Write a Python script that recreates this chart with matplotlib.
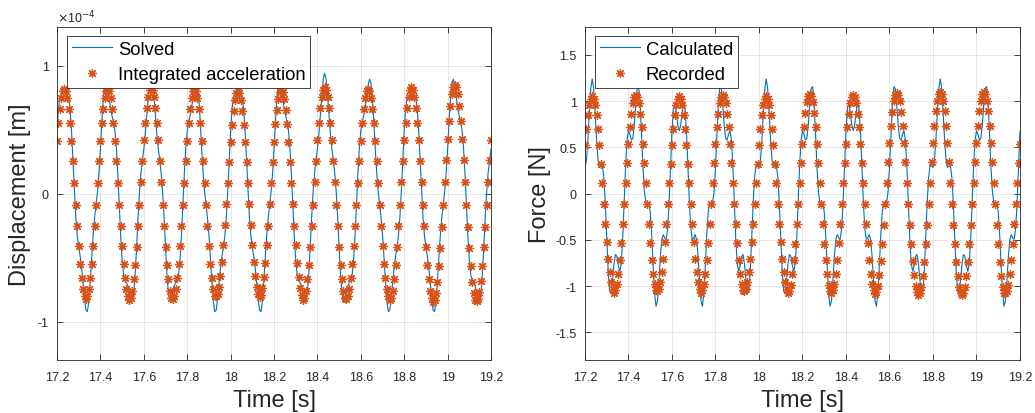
import numpy as np
import matplotlib
matplotlib.use("Agg")
import matplotlib.pyplot as plt
from matplotlib.ticker import FormatStrFormatter

plt.rcParams["font.family"] = ["Liberation Sans", "DejaVu Sans"]
plt.rcParams["axes.unicode_minus"] = False

# ── sampling (both records share the same clock) ─────────────────────────────
T_START = 17.2      # s
FS      = 150       # samples per second

# ── displacement (units of 1e-4 m) ───────────────────────────────────────────
disp_solved = [
     0.491,  0.662,  0.751,  0.767,  0.751,
     0.740,  0.751,  0.767,  0.751,  0.662,  0.491,  0.260,  0.017, -0.188, -0.331,
    -0.420, -0.491, -0.580, -0.696, -0.822, -0.911, -0.922, -0.838, -0.680, -0.491,
    -0.320, -0.189, -0.088,  0.017,  0.160,  0.349,  0.562,  0.751,  0.867,  0.893,
     0.840,  0.751,  0.667,  0.609,  0.562,  0.491,  0.360,  0.159, -0.088, -0.331,
    -0.520, -0.633, -0.680, -0.696, -0.722, -0.769, -0.822, -0.838, -0.780, -0.633,
    -0.420, -0.189,  0.012,  0.159,  0.260,  0.349,  0.462,  0.609,  0.767,  0.893,
     0.940,  0.893,  0.767,  0.609,  0.462,  0.349,  0.260,  0.159,  0.012, -0.189,
    -0.420, -0.633, -0.780, -0.838, -0.822, -0.769, -0.722, -0.696, -0.680, -0.633,
    -0.520, -0.331, -0.088,  0.159,  0.360,  0.491,  0.562,  0.609,  0.667,  0.751,
     0.840,  0.893,  0.867,  0.751,  0.562,  0.349,  0.160,  0.017, -0.088, -0.189,
    -0.320, -0.491, -0.680, -0.838, -0.922, -0.911, -0.822, -0.696, -0.580, -0.491,
    -0.420, -0.331, -0.188,  0.017,  0.260,  0.491,  0.662,  0.751,  0.767,  0.751,
     0.740,  0.751,  0.767,  0.751,  0.662,  0.491,  0.260,  0.017, -0.188, -0.331,
    -0.420, -0.491, -0.580, -0.696, -0.822, -0.911, -0.922, -0.838, -0.680, -0.491,
    -0.320, -0.189, -0.088,  0.017,  0.160,  0.349,  0.562,  0.751,  0.867,  0.893,
     0.840,  0.751,  0.667,  0.609,  0.562,  0.491,  0.360,  0.159, -0.088, -0.331,
    -0.520, -0.633, -0.680, -0.696, -0.722, -0.769, -0.822, -0.838, -0.780, -0.633,
    -0.420, -0.189,  0.012,  0.159,  0.260,  0.349,  0.462,  0.609,  0.767,  0.893,
     0.940,  0.893,  0.767,  0.609,  0.462,  0.349,  0.260,  0.159,  0.012, -0.189,
    -0.420, -0.633, -0.780, -0.838, -0.822, -0.769, -0.722, -0.696, -0.680, -0.633,
    -0.520, -0.331, -0.088,  0.159,  0.360,  0.491,  0.562,  0.609,  0.667,  0.751,
     0.840,  0.893,  0.867,  0.751,  0.562,  0.349,  0.160,  0.017, -0.088, -0.189,
    -0.320, -0.491, -0.680, -0.838, -0.922, -0.911, -0.822, -0.696, -0.580, -0.491,
    -0.420, -0.331, -0.188,  0.017,  0.260,  0.491,  0.662,  0.751,  0.767,  0.751,
     0.740,  0.751,  0.767,  0.751,  0.662,  0.491,  0.260,  0.017, -0.188, -0.331,
    -0.420, -0.491, -0.580, -0.696, -0.822, -0.911, -0.922, -0.838, -0.680, -0.491,
    -0.320, -0.189, -0.088,  0.017,  0.160,  0.349,  0.562,  0.751,  0.867,  0.893,
     0.840,  0.751,  0.667,  0.609,  0.562,  0.491,  0.360,  0.159, -0.088, -0.331,
    -0.520, -0.633, -0.680, -0.696, -0.722, -0.769, -0.822, -0.838, -0.780, -0.633,
    -0.420, -0.189,  0.012,  0.159,  0.260,  0.349,
]

disp_integrated = [
     0.410,  0.549,  0.663,  0.749,  0.802,  0.820,  0.802,  0.749,  0.663,  0.549,
     0.410,  0.253,  0.086, -0.086, -0.253, -0.410, -0.549, -0.663, -0.749, -0.802,
    # cycle 2
    -0.820, -0.802, -0.749, -0.663, -0.549, -0.410, -0.253, -0.086,  0.086,  0.253,
     0.410,  0.549,  0.663,  0.749,  0.802,  0.820,  0.802,  0.749,  0.663,  0.549,
     0.410,  0.253,  0.086, -0.086, -0.253, -0.410, -0.549, -0.663, -0.749, -0.802,
    # cycle 3
    -0.830, -0.812, -0.758, -0.671, -0.555, -0.415, -0.256, -0.087,  0.087,  0.256,
     0.415,  0.555,  0.671,  0.758,  0.812,  0.830,  0.812,  0.758,  0.671,  0.555,
     0.415,  0.256,  0.087, -0.087, -0.256, -0.415, -0.555, -0.671, -0.758, -0.812,
    # cycle 4
    -0.820, -0.802, -0.749, -0.663, -0.549, -0.410, -0.253, -0.086,  0.086,  0.253,
     0.410,  0.549,  0.663,  0.749,  0.802,  0.820,  0.802,  0.749,  0.663,  0.549,
     0.410,  0.253,  0.086, -0.086, -0.253, -0.410, -0.549, -0.663, -0.749, -0.802,
    # cycle 5
    -0.800, -0.782, -0.731, -0.647, -0.535, -0.400, -0.247, -0.084,  0.084,  0.247,
     0.400,  0.535,  0.647,  0.731,  0.782,  0.800,  0.782,  0.731,  0.647,  0.535,
     0.400,  0.247,  0.084, -0.084, -0.247, -0.400, -0.535, -0.647, -0.731, -0.782,
    # cycle 6
    -0.810, -0.792, -0.740, -0.655, -0.542, -0.405, -0.250, -0.085,  0.085,  0.250,
     0.405,  0.542,  0.655,  0.740,  0.792,  0.810,  0.792,  0.740,  0.655,  0.542,
     0.405,  0.250,  0.085, -0.085, -0.250, -0.405, -0.542, -0.655, -0.740, -0.792,
    # cycle 7
    -0.830, -0.812, -0.758, -0.671, -0.555, -0.415, -0.256, -0.087,  0.087,  0.256,
     0.415,  0.555,  0.671,  0.758,  0.812,  0.830,  0.812,  0.758,  0.671,  0.555,
     0.415,  0.256,  0.087, -0.087, -0.256, -0.415, -0.555, -0.671, -0.758, -0.812,
    # cycle 8
    -0.820, -0.802, -0.749, -0.663, -0.549, -0.410, -0.253, -0.086,  0.086,  0.253,
     0.410,  0.549,  0.663,  0.749,  0.802,  0.820,  0.802,  0.749,  0.663,  0.549,
     0.410,  0.253,  0.086, -0.086, -0.253, -0.410, -0.549, -0.663, -0.749, -0.802,
    # cycle 9
    -0.830, -0.812, -0.758, -0.671, -0.555, -0.415, -0.256, -0.087,  0.087,  0.256,
     0.415,  0.555,  0.671,  0.758,  0.812,  0.830,  0.812,  0.758,  0.671,  0.555,
     0.415,  0.256,  0.087, -0.087, -0.256, -0.415, -0.555, -0.671, -0.758, -0.812,
    # cycle 10
    -0.850, -0.831, -0.776, -0.688, -0.569, -0.425, -0.263, -0.089,  0.089,  0.263,
     0.425,  0.569,  0.688,  0.776,  0.831,  0.850,  0.831,  0.776,  0.688,  0.569,
     0.425,  0.263,  0.089, -0.089, -0.263, -0.425, -0.569, -0.688, -0.776, -0.831,
    # tail
    -0.840, -0.822, -0.767, -0.680, -0.562, -0.420, -0.260, -0.088,  0.088,  0.260,
     0.420,
]

# ── force ────────────────────────────────────────────────────────────────────
force_calc = [
     0.282,  0.362,  0.579,  0.877,  1.137,
     1.240,  1.137,  0.877,  0.579,  0.362,  0.282,  0.297,  0.298,  0.180, -0.099,
    -0.480, -0.840, -1.057, -1.075, -0.939, -0.762, -0.659, -0.679, -0.777, -0.840,
    -0.760, -0.495, -0.100,  0.298,  0.577,  0.678,  0.642,  0.579,  0.597,  0.741,
     0.960,  1.137,  1.157,  0.975,  0.642,  0.282,  0.017, -0.098, -0.100, -0.099,
    -0.200, -0.444, -0.777, -1.075, -1.219, -1.158, -0.939, -0.679, -0.497, -0.444,
    -0.480, -0.495, -0.380, -0.098,  0.297,  0.678,  0.922,  0.975,  0.877,  0.741,
     0.680,  0.741,  0.877,  0.975,  0.922,  0.678,  0.297, -0.098, -0.380, -0.495,
    -0.480, -0.444, -0.497, -0.679, -0.939, -1.158, -1.219, -1.075, -0.777, -0.444,
    -0.200, -0.099, -0.100, -0.098,  0.017,  0.282,  0.642,  0.975,  1.157,  1.137,
     0.960,  0.741,  0.597,  0.579,  0.642,  0.678,  0.577,  0.298, -0.100, -0.495,
    -0.760, -0.840, -0.777, -0.679, -0.659, -0.762, -0.939, -1.075, -1.057, -0.840,
    -0.480, -0.099,  0.180,  0.298,  0.297,  0.282,  0.362,  0.579,  0.877,  1.137,
     1.240,  1.137,  0.877,  0.579,  0.362,  0.282,  0.297,  0.298,  0.180, -0.099,
    -0.480, -0.840, -1.057, -1.075, -0.939, -0.762, -0.659, -0.679, -0.777, -0.840,
    -0.760, -0.495, -0.100,  0.298,  0.577,  0.678,  0.642,  0.579,  0.597,  0.741,
     0.960,  1.137,  1.157,  0.975,  0.642,  0.282,  0.017, -0.098, -0.100, -0.099,
    -0.200, -0.444, -0.777, -1.075, -1.219, -1.158, -0.939, -0.679, -0.497, -0.444,
    -0.480, -0.495, -0.380, -0.098,  0.297,  0.678,  0.922,  0.975,  0.877,  0.741,
     0.680,  0.741,  0.877,  0.975,  0.922,  0.678,  0.297, -0.098, -0.380, -0.495,
    -0.480, -0.444, -0.497, -0.679, -0.939, -1.158, -1.219, -1.075, -0.777, -0.444,
    -0.200, -0.099, -0.100, -0.098,  0.017,  0.282,  0.642,  0.975,  1.157,  1.137,
     0.960,  0.741,  0.597,  0.579,  0.642,  0.678,  0.577,  0.298, -0.100, -0.495,
    -0.760, -0.840, -0.777, -0.679, -0.659, -0.762, -0.939, -1.075, -1.057, -0.840,
    -0.480, -0.099,  0.180,  0.298,  0.297,  0.282,  0.362,  0.579,  0.877,  1.137,
     1.240,  1.137,  0.877,  0.579,  0.362,  0.282,  0.297,  0.298,  0.180, -0.099,
    -0.480, -0.840, -1.057, -1.075, -0.939, -0.762, -0.659, -0.679, -0.777, -0.840,
    -0.760, -0.495, -0.100,  0.298,  0.577,  0.678,  0.642,  0.579,  0.597,  0.741,
     0.960,  1.137,  1.157,  0.975,  0.642,  0.282,  0.017, -0.098, -0.100, -0.099,
    -0.200, -0.444, -0.777, -1.075, -1.219, -1.158, -0.939, -0.679, -0.497, -0.444,
    -0.480, -0.495, -0.380, -0.098,  0.297,  0.678,
]

force_rec = [
     0.525,  0.703,  0.849,  0.959,  1.027,  1.050,  1.027,  0.959,  0.849,  0.703,
     0.525,  0.324,  0.110, -0.110, -0.324, -0.525, -0.703, -0.849, -0.959, -1.027,
    # cycle 2
    -1.070, -1.047, -0.977, -0.866, -0.716, -0.535, -0.331, -0.112,  0.112,  0.331,
     0.535,  0.716,  0.866,  0.977,  1.047,  1.070,  1.047,  0.977,  0.866,  0.716,
     0.535,  0.331,  0.112, -0.112, -0.331, -0.535, -0.716, -0.866, -0.977, -1.047,
    # cycle 3
    -1.050, -1.027, -0.959, -0.849, -0.703, -0.525, -0.324, -0.110,  0.110,  0.324,
     0.525,  0.703,  0.849,  0.959,  1.027,  1.050,  1.027,  0.959,  0.849,  0.703,
     0.525,  0.324,  0.110, -0.110, -0.324, -0.525, -0.703, -0.849, -0.959, -1.027,
    # cycle 4
    -1.070, -1.047, -0.977, -0.866, -0.716, -0.535, -0.331, -0.112,  0.112,  0.331,
     0.535,  0.716,  0.866,  0.977,  1.047,  1.070,  1.047,  0.977,  0.866,  0.716,
     0.535,  0.331,  0.112, -0.112, -0.331, -0.535, -0.716, -0.866, -0.977, -1.047,
    # cycle 5
    -1.050, -1.027, -0.959, -0.849, -0.703, -0.525, -0.324, -0.110,  0.110,  0.324,
     0.525,  0.703,  0.849,  0.959,  1.027,  1.050,  1.027,  0.959,  0.849,  0.703,
     0.525,  0.324,  0.110, -0.110, -0.324, -0.525, -0.703, -0.849, -0.959, -1.027,
    # cycle 6
    -1.080, -1.056, -0.987, -0.874, -0.723, -0.540, -0.334, -0.113,  0.113,  0.334,
     0.540,  0.723,  0.874,  0.987,  1.056,  1.080,  1.056,  0.987,  0.874,  0.723,
     0.540,  0.334,  0.113, -0.113, -0.334, -0.540, -0.723, -0.874, -0.987, -1.056,
    # cycle 7
    -1.070, -1.047, -0.977, -0.866, -0.716, -0.535, -0.331, -0.112,  0.112,  0.331,
     0.535,  0.716,  0.866,  0.977,  1.047,  1.070,  1.047,  0.977,  0.866,  0.716,
     0.535,  0.331,  0.112, -0.112, -0.331, -0.535, -0.716, -0.866, -0.977, -1.047,
    # cycle 8
    -1.090, -1.066, -0.996, -0.882, -0.729, -0.545, -0.337, -0.114,  0.114,  0.337,
     0.545,  0.729,  0.882,  0.996,  1.066,  1.090,  1.066,  0.996,  0.882,  0.729,
     0.545,  0.337,  0.114, -0.114, -0.337, -0.545, -0.729, -0.882, -0.996, -1.066,
    # cycle 9
    -1.100, -1.076, -1.005, -0.890, -0.736, -0.550, -0.340, -0.115,  0.115,  0.340,
     0.550,  0.736,  0.890,  1.005,  1.076,  1.100,  1.076,  1.005,  0.890,  0.736,
     0.550,  0.340,  0.115, -0.115, -0.340, -0.550, -0.736, -0.890, -1.005, -1.076,
    # cycle 10
    -1.100, -1.076, -1.005, -0.890, -0.736, -0.550, -0.340, -0.115,  0.115,  0.340,
     0.550,  0.736,  0.890,  1.005,  1.076,  1.100,  1.076,  1.005,  0.890,  0.736,
     0.550,  0.340,  0.115, -0.115, -0.340, -0.550, -0.736, -0.890, -1.005, -1.076,
    # tail
    -1.080, -1.056, -0.987, -0.874, -0.723, -0.540, -0.334, -0.113,  0.113,  0.334,
     0.540,
]

for arr in (disp_integrated, force_calc, force_rec):
    assert len(arr) == len(disp_solved), len(arr)

t = T_START + np.arange(len(disp_solved)) / FS

X_TICKS      = [17.2, 17.4, 17.6, 17.8, 18.0, 18.2, 18.4, 18.6, 18.8, 19.0, 19.2]
DISP_TICKS   = [-1, 0, 1]          # x 1e-4 m
FORCE_TICKS  = [-1.5, -1, -0.5, 0, 0.5, 1, 1.5]

# ── MATLAB-like look ──────────────────────────────────────────────────────────
BLUE   = "#0072BD"
ORANGE = "#D95319"
INK    = "#262626"
STAR   = (8, 2, 0)
LABEL_FS = 17


def style_axis(ax):
    ax.set_xlim(17.2, 19.2)
    ax.set_xticks(X_TICKS)
    ax.xaxis.set_major_formatter(FormatStrFormatter("%g"))
    ax.yaxis.set_major_formatter(FormatStrFormatter("%g"))
    ax.tick_params(axis="both", direction="in", length=4, width=0.6,
                   top=True, right=True, labelsize=9, colors=INK, pad=6)
    ax.tick_params(axis="x", pad=8)
    ax.grid(True, color=INK, alpha=0.15, linewidth=0.5)
    for sp in ax.spines.values():
        sp.set_linewidth(0.6)
        sp.set_color(INK)
    ax.set_xlabel("Time [s]", fontsize=LABEL_FS, color=INK, labelpad=4)


def add_legend(ax):
    leg = ax.legend(loc="upper left", bbox_to_anchor=(0.023, 0.973),
                    borderaxespad=0, fontsize=13.3, frameon=True, fancybox=False,
                    framealpha=1, edgecolor=INK, borderpad=0.26,
                    labelspacing=0.45, handlelength=2.2, handletextpad=0.3,
                    numpoints=1)
    leg.get_frame().set_linewidth(0.6)


fig = plt.figure(figsize=(10.35, 4.14), dpi=100)
fig.patch.set_facecolor("white")

# left: displacement
ax1 = fig.add_axes([0.0551, 0.128, 0.4193, 0.804])
ax1.plot(t, disp_solved, color=BLUE, lw=0.8, label="Solved")
ax1.plot(t, disp_integrated, ls="none", marker=STAR, ms=6.5, mew=0.9,
         color=ORANGE, label="Integrated acceleration")
ax1.set_ylim(-1.3, 1.3)
ax1.set_yticks(DISP_TICKS)
ax1.text(0.0, 1.006, r"$\times$10$^{-4}$", transform=ax1.transAxes,
         fontsize=9, color=INK, ha="left", va="bottom")
ax1.set_ylabel("Displacement [m]", fontsize=LABEL_FS, color=INK, labelpad=5)
style_axis(ax1)
add_legend(ax1)

# right: force
ax2 = fig.add_axes([0.5652, 0.128, 0.4203, 0.804])
ax2.plot(t, force_calc, color=BLUE, lw=0.8, label="Calculated")
ax2.plot(t, force_rec, ls="none", marker=STAR, ms=6.5, mew=0.9,
         color=ORANGE, label="Recorded")
ax2.set_ylim(-1.8, 1.8)
ax2.set_yticks(FORCE_TICKS)
ax2.set_ylabel("Force [N]", fontsize=LABEL_FS, color=INK, labelpad=3)
style_axis(ax2)
add_legend(ax2)

fig.savefig("out.png", dpi=100)
